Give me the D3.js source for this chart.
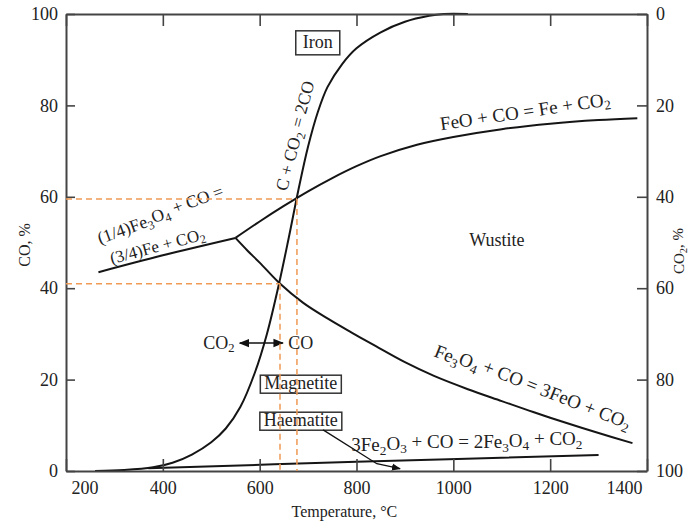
<!DOCTYPE html>
<html><head><meta charset="utf-8">
<script src="https://cdn.jsdelivr.net/npm/d3@7"></script>
<style>
body{margin:0;background:#fff}
svg{display:block}
text{font-family:"Liberation Serif","Times New Roman",serif;fill:#222}
</style>
</head><body>
<svg id="c" width="689" height="529"></svg>
<script>
// ---- data ----
const tempTicks = [200, 400, 600, 800, 1000, 1200, 1400];
const coTicks = [0, 20, 40, 60, 80, 100];
const co2Ticks = [0, 20, 40, 60, 80, 100];
// [temperature °C, CO %]
const boudouard = [[260,0],[320,0.2],[380,0.8],[420,1.8],[460,3.6],[500,6.3],[530,9.3],[560,14],[590,21.5],[615,30],[640,41],[660,51],[680,61.5],[700,71],[720,78.5],[740,84],[770,89],[800,92.5],[850,96],[900,98.3],[950,99.6],[980,100],[1030,100]];
const fe3o4Fe = [[267,43.5],[400,47.2],[550,51]];
const feoFe = [[550,51],[600,54.6],[650,58],[700,61.2],[750,64.1],[800,66.7],[850,68.9],[925,71.4],[1000,73.1],[1100,74.8],[1200,76],[1300,76.8],[1380,77.2]];
const fe3o4FeO = [[550,51],[575,48.2],[600,45.6],[640,41.2],[690,36.8],[740,33.4],[790,30.3],[840,27.3],[900,23.8],[960,20.8],[1030,17.9],[1100,15.3],[1165,12.9],[1234,10.5],[1300,8.3],[1370,6.1]];
const fe2o3 = [[370,0.6],[800,2.0],[1300,3.5]];
const dashTemps = [642, 677];
const dashCOs = [41, 59.5];

// ---- scales ----
const svg = d3.select("#c");
const x = d3.scaleLinear().domain([200, 1400]).range([66, 647]);
const y = d3.scaleLinear().domain([0, 100]).range([471, 14]);
const y2 = d3.scaleLinear().domain([0, 100]).range([14, 471]);

const defs = svg.append("defs");
defs.append("marker").attr("id","ah").attr("viewBox","0 0 10 10").attr("refX",9).attr("refY",5)
  .attr("markerWidth",7).attr("markerHeight",7).attr("orient","auto-start-reverse")
  .append("path").attr("d","M0,1L10,5L0,9z").attr("fill","#111");

function styleAxis(g){
  g.select(".domain").attr("stroke","#444").attr("stroke-width",2);
  g.selectAll(".tick line").attr("stroke","#444").attr("stroke-width",1.6);
  g.selectAll(".tick text").attr("font-family","Liberation Serif, serif").attr("font-size",18).attr("fill","#333");
}

// ---- curves ----
const line = d3.line().x(d=>x(d[0])).y(d=>y(d[1])).curve(d3.curveCatmullRom.alpha(0.5));
[boudouard, fe3o4Fe, feoFe, fe3o4FeO, fe2o3].forEach(s=>{
  svg.append("path").datum(s).attr("d",line).attr("fill","none").attr("stroke","#151515").attr("stroke-width",2);
});

// ---- axes ----
const fmt = d3.format("d");
const gB = svg.append("g").attr("transform",`translate(0,${y(0)})`)
  .call(d3.axisBottom(x).tickValues(tempTicks).tickFormat(fmt).tickSizeInner(-12).tickSizeOuter(0).tickPadding(10));
styleAxis(gB);
gB.selectAll(".tick text").filter(d=>d===200).attr("text-anchor","start").attr("x",5);
gB.selectAll(".tick text").filter(d=>d===1400).attr("text-anchor","end").attr("x",-5);
const gT = svg.append("g").attr("transform",`translate(0,${y(100)})`)
  .call(d3.axisTop(x).tickValues(tempTicks).tickSizeInner(-12).tickSizeOuter(0).tickFormat(""));
styleAxis(gT);
const gL = svg.append("g").attr("transform",`translate(${x(200)},0)`)
  .call(d3.axisLeft(y).tickValues(coTicks).tickFormat(fmt).tickSizeInner(-9).tickSizeOuter(0).tickPadding(8));
styleAxis(gL);
const gR = svg.append("g").attr("transform",`translate(${x(1400)},0)`)
  .call(d3.axisRight(y2).tickValues(co2Ticks).tickFormat(fmt).tickSizeInner(-10).tickSizeOuter(0).tickPadding(9));
styleAxis(gR);

// ---- text helper with subscripts ("_3") ----
const boxLayer = svg.append("g");
function rich(sel, str, size){
  const t = sel.attr("font-size",size);
  const parts = str.split(/(_\d)/).filter(p=>p.length);
  let sub = false;
  parts.forEach(p=>{
    if(p[0]==="_"){
      t.append("tspan").attr("dy","0.28em").attr("font-size",size*0.7).text(p.slice(1));
      sub = true;
    } else {
      const ts = t.append("tspan").text(p);
      if(sub){ ts.attr("dy","-0.28em"); sub=false; }
    }
  });
  return t;
}
function label(str, T, C, size, rot, anchor){
  const g = svg.append("text").attr("text-anchor",anchor||"middle")
    .attr("transform",`translate(${x(T)},${y(C)}) rotate(${rot||0})`);
  return rich(g, str, size);
}

// axis titles
label("Temperature, °C", 775, -10, 16, 0);
svg.append("text").attr("text-anchor","middle").attr("font-size",16)
  .attr("transform","translate(30,245) rotate(-90)").text("CO, %");
rich(svg.append("text").attr("text-anchor","middle")
  .attr("transform","translate(684,251) rotate(-90)"), "CO_2, %", 15);

// reaction labels
label("C + CO_2 = 2CO", 686, 73, 17.5, -75);
label("FeO + CO = Fe + CO_2", 1150, 77.3, 19, -8.4);
label("(1/4)Fe_3O_4 + CO =", 400, 54.6, 17.5, -20);
label("(3/4)Fe + CO_2", 392, 48, 17, -15);
label("Fe_3O_4 + CO = 3FeO + CO_2", 1158, 16.8, 19, 21.6);
label("3Fe_2O_3 + CO = 2Fe_3O_4 + CO_2", 1028, 4.3, 19, 0);
label("Wustite", 1090, 49.2, 18, 0);

// boxed phase labels
function boxed(str, T, C, size, px, py){
  const t = label(str, T, C, size, 0);
  const bb = t.node().getBBox();
  const cx = x(T), cy = y(C);
  boxLayer.append("rect").attr("x",cx+bb.x-px).attr("y",cy+bb.y+2-py).attr("width",bb.width+2*px).attr("height",bb.height-2+2*py)
    .attr("fill","none").attr("stroke","#333").attr("stroke-width",1.5);
}
boxed("Iron", 720, 92.6, 18, 7, 3);
boxed("Magnetite", 685, 17.9, 18, 4, 0);
boxed("Haematite", 685, 9.8, 18, 4, 0);

// CO2 <-> CO arrow
label("CO_2", 516, 26.8, 18, 0);
label("CO", 685, 26.8, 18, 0);
svg.append("line").attr("x1",x(559)).attr("x2",x(648)).attr("y1",y(28)).attr("y2",y(28))
  .attr("stroke","#111").attr("stroke-width",1.5)
  .attr("marker-start","url(#ah)").attr("marker-end","url(#ah)");

// Haematite leader arrow
const leader = [[731,9.0],[842,1.6],[890,0.5]];
svg.append("path").attr("d",d3.line().x(d=>x(d[0])).y(d=>y(d[1]))(leader))
  .attr("fill","none").attr("stroke","#111").attr("stroke-width",1.3).attr("marker-end","url(#ah)");

// ---- dashed guide lines (on top, visible through boxes) ----
const dash = svg.append("g").attr("stroke","#ef9a55").attr("stroke-width",1.5).attr("stroke-dasharray","6,4").attr("fill","none");
dashCOs.forEach((c,i)=>{
  dash.append("line").attr("x1",x(200)).attr("x2",x(dashTemps[i])).attr("y1",y(c)).attr("y2",y(c));
  dash.append("line").attr("x1",x(dashTemps[i])).attr("x2",x(dashTemps[i])).attr("y1",y(c)).attr("y2",y(0));
});
</script>
</body></html>
